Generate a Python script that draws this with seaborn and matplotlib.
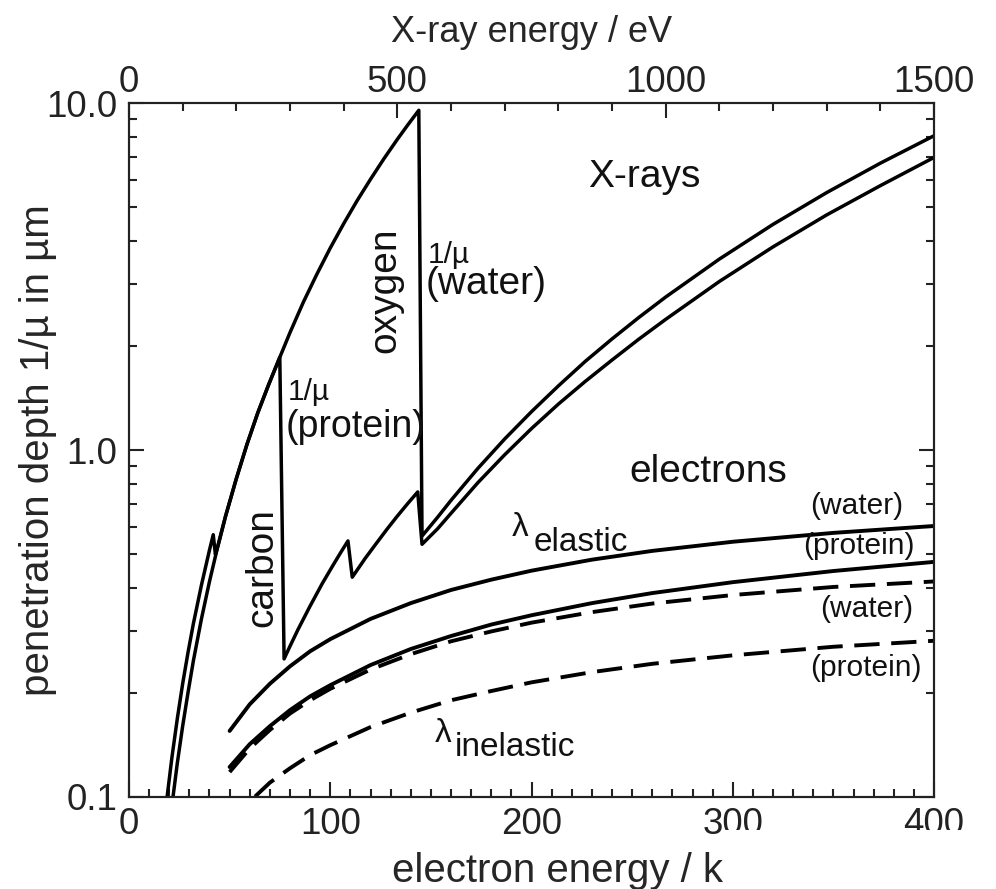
import numpy as np
import pandas as pd
import matplotlib
matplotlib.use("Agg")
import matplotlib.pyplot as plt
from matplotlib.patches import Rectangle
from matplotlib.ticker import MultipleLocator, LogLocator, NullFormatter
import seaborn as sns

# X-ray attenuation length 1/mu (top axis, eV -> um)
water_ev = [82, 90, 100, 110, 120, 135, 150, 165, 180, 200, 220, 240, 260, 281, 300, 325, 350, 375, 400, 425,
            450, 475, 500, 520, 540, 546, 575, 600, 650, 700, 750, 800, 850, 900, 950, 1000, 1100, 1200, 1300, 1400,
            1500]
water_um = [0.10, 0.125, 0.16, 0.20, 0.247, 0.326, 0.418, 0.524, 0.645, 0.827, 1.04, 1.28, 1.54, 1.85, 2.18, 2.67,
            3.21, 3.82, 4.49, 5.23, 6.03, 6.91, 7.86, 8.67, 9.53, 0.565, 0.64, 0.716, 0.885, 1.076, 1.29, 1.53, 1.80,
            2.09, 2.41, 2.76, 3.55, 4.47, 5.52, 6.71, 8.05]
protein_ev = [71, 80, 90, 100, 110, 120, 135, 150, 157, 161, 165, 180, 200, 220, 240, 260, 281, 289, 300, 315,
              337, 360, 380, 395, 408, 416, 440, 460, 481, 500, 520, 538, 546, 575, 600, 650, 700, 750, 800, 850,
              900, 950, 1000, 1100, 1200, 1300, 1400, 1500]
protein_um = [0.10, 0.13, 0.168, 0.212, 0.261, 0.316, 0.408, 0.515, 0.57, 0.50, 0.524, 0.645, 0.827, 1.04, 1.28,
              1.54, 1.85, 0.25, 0.272, 0.304, 0.354, 0.412, 0.465, 0.508, 0.547, 0.43, 0.487, 0.536, 0.592, 0.645,
              0.703, 0.757, 0.535, 0.593, 0.657, 0.805, 0.969, 1.153, 1.356, 1.576, 1.817, 2.087, 2.38, 3.06, 3.85,
              4.76, 5.78, 6.97]

# electron mean free paths (bottom axis, keV -> um)
electron_kev = [50, 60, 70, 80, 90, 100, 120, 140, 160, 180, 200, 230, 260, 300, 350, 400]
el_water_um = [0.155, 0.185, 0.212, 0.238, 0.263, 0.285, 0.326, 0.362, 0.395, 0.423, 0.449, 0.483, 0.512, 0.544,
               0.577, 0.604]
el_protein_um = [0.122, 0.142, 0.160, 0.178, 0.195, 0.210, 0.240, 0.267, 0.291, 0.314, 0.334, 0.362, 0.387, 0.416,
                 0.448, 0.476]
inel_water_um = [0.118, 0.138, 0.156, 0.174, 0.190, 0.205, 0.233, 0.258, 0.281, 0.300, 0.318, 0.341, 0.361, 0.382,
                 0.403, 0.418]
inel_protein_um = [0.084, 0.097, 0.110, 0.121, 0.132, 0.141, 0.159, 0.175, 0.190, 0.202, 0.214, 0.229, 0.242,
                   0.256, 0.271, 0.282]

xray = pd.concat([
    pd.DataFrame({'eV': water_ev, 'depth': water_um, 'material': 'water'}),
    pd.DataFrame({'eV': protein_ev, 'depth': protein_um, 'material': 'protein'}),
], ignore_index=True)

elec = pd.concat([
    pd.DataFrame({'keV': electron_kev, 'depth': el_water_um, 'kind': 'elastic', 'curve': 'el_water'}),
    pd.DataFrame({'keV': electron_kev, 'depth': el_protein_um, 'kind': 'elastic', 'curve': 'el_protein'}),
    pd.DataFrame({'keV': electron_kev, 'depth': inel_water_um, 'kind': 'inelastic', 'curve': 'inel_water'}),
    pd.DataFrame({'keV': electron_kev, 'depth': inel_protein_um, 'kind': 'inelastic', 'curve': 'inel_protein'}),
], ignore_index=True)

sns.set_style("ticks")
plt.rcParams['font.family'] = ['Liberation Sans', 'DejaVu Sans']

fig = plt.figure(figsize=(9.96, 8.89), dpi=100)
ax = fig.add_axes([0.1295, 0.1035, 0.8083, 0.7806])
ax.set_yscale('log')
axt = ax.twiny()

# electrons on the keV axis
sns.lineplot(data=elec, x='keV', y='depth', style='kind', units='curve', estimator=None,
             dashes={'elastic': '', 'inelastic': (6.5, 3)}, color='black', lw=2.8,
             legend=False, ax=ax)
# X-rays on the eV axis
sns.lineplot(data=xray, x='eV', y='depth', units='material', estimator=None, sort=False,
             color='black', lw=2.5, legend=False, ax=axt)

ax.set_xlim(0, 400)
axt.set_xlim(0, 1500)
ax.set_ylim(0.1, 10)

# ticks
ax.set_yticks([0.1, 1, 10])
ax.set_yticklabels(['0.1', '1.0', '10.0'])
ax.yaxis.set_minor_locator(LogLocator(base=10, subs=np.arange(2, 10)))
ax.yaxis.set_minor_formatter(NullFormatter())
ax.xaxis.set_major_locator(MultipleLocator(100))
ax.xaxis.set_minor_locator(MultipleLocator(10))
axt.xaxis.set_major_locator(MultipleLocator(500))
axt.xaxis.set_minor_locator(MultipleLocator(100))

for a in (ax, axt):
    a.tick_params(which='both', direction='in', width=1.5, colors='#222222', labelsize=26.5)
    a.tick_params(which='major', length=10.5)
    a.tick_params(which='minor', length=5.5)
    for s in a.spines.values():
        s.set_linewidth(1.5)
        s.set_color('#222222')
ax.tick_params(axis='y', which='both', left=True, right=True, pad=8.5)
ax.tick_params(axis='x', which='both', top=False, pad=7)
axt.tick_params(axis='x', which='both', pad=2)

ax.set_xlabel('electron energy / k', fontsize=29)
ax.xaxis.set_label_coords(0.532, -0.0793)
axt.set_xlabel('X-ray energy / eV', fontsize=26)
axt.xaxis.set_label_coords(0.5, 1.0879)
ax.set_ylabel('penetration depth 1/µ in µm', fontsize=29)
ax.yaxis.set_label_coords(-0.0894, 0.5)
axt.set_ylabel('')

# annotations
tc = '#111111'
ax.text(256, 5.72, 'X-rays', ha='center', va='baseline', fontsize=28, color=tc)
ax.text(287.7, 0.809, 'electrons', ha='center', va='baseline', fontsize=28, color=tc)
axt.text(557, 3.46, '1/µ', ha='left', va='baseline', fontsize=21.5, color=tc)
axt.text(552, 2.81, '(water)', ha='left', va='baseline', fontsize=28, color=tc)
axt.text(496, 2.88, 'oxygen', rotation=90, rotation_mode='anchor', ha='center', va='baseline',
         fontsize=28, color=tc)
axt.text(266.5, 0.457, 'carbon', rotation=90, rotation_mode='anchor', ha='center', va='baseline',
         fontsize=28, color=tc)
axt.text(296, 1.39, '1/µ', ha='left', va='baseline', fontsize=21.5, color=tc)
axt.text(291, 1.09, '(protein)', ha='left', va='baseline', fontsize=27, color=tc)
ax.text(190.3, 0.565, 'λ', ha='left', va='baseline', fontsize=24, color=tc)
ax.text(201.2, 0.512, 'elastic', ha='left', va='baseline', fontsize=24, color=tc)
ax.text(152, 0.144, 'λ', ha='left', va='baseline', fontsize=24, color=tc)
ax.text(162, 0.131, 'inelastic', ha='left', va='baseline', fontsize=24, color=tc)
ax.text(338.4, 0.654, '(water)', ha='left', va='baseline', fontsize=21.5, color=tc)
ax.text(335, 0.502, '(protein)', ha='left', va='baseline', fontsize=21.5, color=tc)
ax.text(343.4, 0.33, '(water)', ha='left', va='baseline', fontsize=21.5, color=tc)
ax.text(338.4, 0.223, '(protein)', ha='left', va='baseline', fontsize=21.5, color=tc)

# the source figure is cut off in the lower right corner
fig.add_artist(Rectangle((723 / 996, 0), 1 - 723 / 996, (889 - 830) / 889,
                         transform=fig.transFigure, facecolor='white', edgecolor='none', zorder=10))

fig.savefig('out.png', dpi=100)
